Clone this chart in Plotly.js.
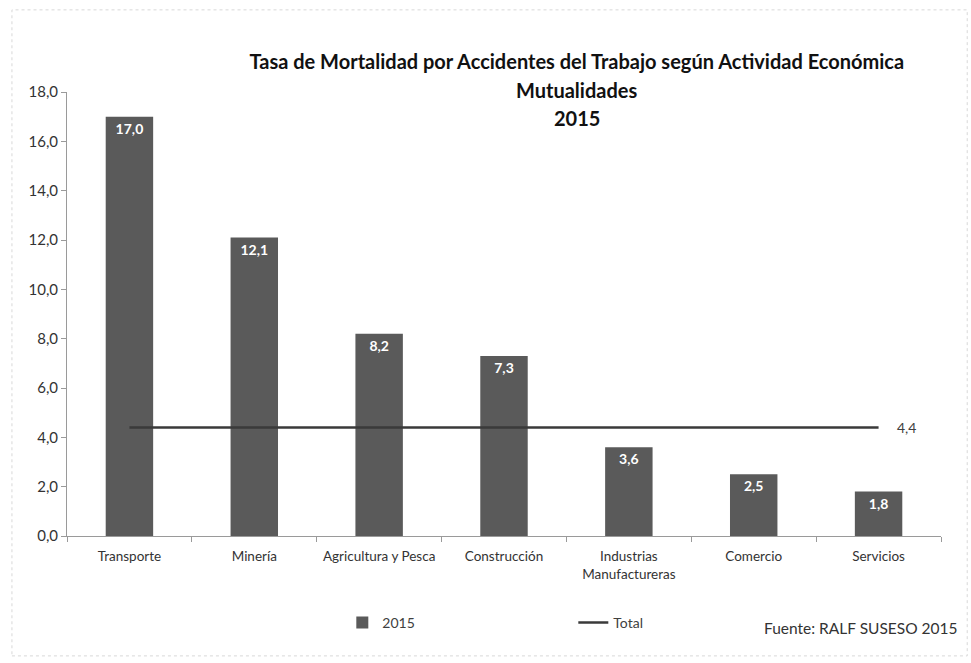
<!DOCTYPE html>
<html>
<head>
<meta charset="utf-8">
<script src="https://cdn.plot.ly/plotly-3.0.1.min.js"></script>
<style>html,body{margin:0;padding:0;background:#fff;}#chart{width:971px;height:663px;}</style>
</head>
<body>
<div id="chart"></div>
<script>
const categories = ['Transporte', 'Minería', 'Agricultura y Pesca', 'Construcción', 'Industrias<br>Manufactureras', 'Comercio', 'Servicios'];
const values2015 = [17.0, 12.1, 8.2, 7.3, 3.6, 2.5, 1.8];
const totalValues = [4.4, 4.4, 4.4, 4.4, 4.4, 4.4, 4.4];
const totalLabel = '4,4';
const yTickVals = [0, 2, 4, 6, 8, 10, 12, 14, 16, 18];

const FONT = 'Lato, "Open Sans", sans-serif';

const traces = [
  {
    type: 'bar',
    name: '2015',
    x: categories,
    y: values2015,
    marker: {color: '#5a5a5a'},
    texttemplate: '%{y:.1f}',
    textposition: 'inside',
    insidetextanchor: 'end',
    textangle: 0,
    insidetextfont: {family: FONT, size: 14, color: '#ffffff', weight: 'bold'},
    hoverinfo: 'skip'
  },
  {
    type: 'scatter',
    mode: 'lines',
    name: 'Total',
    x: categories,
    y: totalValues,
    line: {color: '#3a3a3a', width: 2.5},
    hoverinfo: 'skip'
  }
];

const last = categories.length - 1;

const layout = {
  width: 971,
  height: 663,
  paper_bgcolor: '#ffffff',
  plot_bgcolor: '#ffffff',
  separators: ',.',
  margin: {l: 67, r: 30, t: 92, b: 127},
  font: {family: FONT, size: 12, color: '#404040'},
  title: {
    text: 'Tasa de Mortalidad por Accidentes del Trabajo según Actividad Económica',
    font: {family: FONT, size: 20, color: '#111111', weight: 'bold'},
    xref: 'container', x: 0.594, xanchor: 'center',
    yref: 'container', y: 0.906, yanchor: 'middle'
  },
  bargap: 0.62,
  showlegend: true,
  legend: {
    orientation: 'h',
    x: 0.315, xanchor: 'left',
    y: -0.196, yanchor: 'middle',
    font: {family: FONT, size: 14, color: '#404040'},
    entrywidth: 186, entrywidthmode: 'pixels',
    bgcolor: 'rgba(0,0,0,0)'
  },
  xaxis: {
    type: 'category',
    showgrid: false,
    showline: true,
    linecolor: '#9a9a9a',
    linewidth: 1,
    ticks: 'outside',
    tickson: 'boundaries',
    ticklen: 5,
    tickcolor: '#9a9a9a',
    tickangle: 0,
    ticklabelstandoff: 8,
    tickfont: {family: FONT, size: 13.5, color: '#333333'},
    zeroline: false,
    fixedrange: true
  },
  yaxis: {
    range: [0, 18],
    tickvals: yTickVals,
    tickformat: '.1f',
    showgrid: false,
    showline: true,
    linecolor: '#9a9a9a',
    linewidth: 1,
    ticks: 'outside',
    ticklen: 5,
    tickcolor: '#9a9a9a',
    tickfont: {family: FONT, size: 15, color: '#333333'},
    zeroline: false,
    fixedrange: true
  },
  annotations: [
    {text: 'Mutualidades', xref: 'paper', yref: 'paper', x: 0.5835, y: 1.0045, xanchor: 'center', yanchor: 'middle', showarrow: false, font: {family: FONT, size: 20, color: '#111111', weight: 'bold'}},
    {text: '2015', xref: 'paper', yref: 'paper', x: 0.5835, y: 0.9414, xanchor: 'center', yanchor: 'middle', showarrow: false, font: {family: FONT, size: 20, color: '#111111', weight: 'bold'}},
    {text: totalLabel, xref: 'x', yref: 'y', x: categories[last], y: totalValues[last], xanchor: 'left', yanchor: 'middle', xshift: 16, showarrow: false, font: {family: FONT, size: 14, color: '#404040'}},
    {text: 'Fuente: RALF SUSESO 2015', xref: 'paper', yref: 'paper', x: 1.022, y: -0.207, xanchor: 'right', yanchor: 'middle', showarrow: false, font: {family: FONT, size: 15.5, color: '#333333'}}
  ],
  shapes: [
    {type: 'rect', xref: 'paper', yref: 'paper', x0: -0.063, x1: 1.03, y0: -0.27, y1: 1.185, line: {color: '#d8d8d8', width: 1, dash: 'dot'}}
  ]
};

Plotly.newPlot('chart', traces, layout, {displayModeBar: false, staticPlot: true});
</script>
</body>
</html>
